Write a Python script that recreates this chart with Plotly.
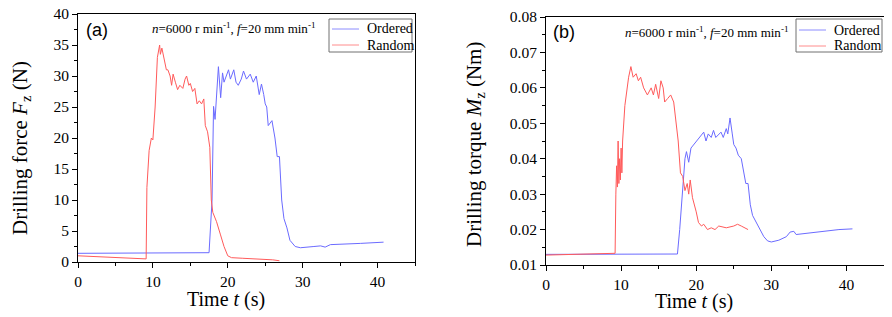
import plotly.graph_objects as go

# (a) Drilling force, Ordered
fa_ord_t = [0, 17.5, 17.9, 18.1, 18.3, 18.75, 19.05, 19.3, 19.5, 20.1, 20.35, 20.8, 21.1, 21.4, 21.8, 22.1, 22.5, 23.0,
            23.4, 23.8, 24.2, 24.5, 24.8, 25.0, 25.2, 25.4, 25.9, 26.3, 26.6, 26.9, 27.2, 27.5, 27.9, 28.3, 29.0, 29.7,
            31.5, 32.4, 33.0, 33.7, 37.7, 40.8]
fa_ord_v = [1.4, 1.5, 10.0, 25.1, 23.0, 31.5, 26.5, 30.5, 29.0, 31.0, 29.5, 31.0, 29.0, 28.5, 29.5, 30.8, 29.5, 30.3,
            29.0, 30.0, 27.0, 28.7, 27.0, 25.5, 25.0, 22.0, 22.8, 20.0, 17.0, 17.0, 10.0, 7.0, 5.5, 3.5, 2.5, 2.3,
            2.5, 2.6, 2.4, 2.8, 3.0, 3.2]

# (a) Drilling force, Random
fa_rnd_t = [0, 9.1, 9.2, 9.5, 9.8, 10.0, 10.3, 10.6, 10.9, 11.0, 11.2, 11.5, 11.8, 12.0, 12.3, 12.5, 12.7, 13.0, 13.3,
            13.6, 14.0, 14.3, 14.5, 14.8, 15.0, 15.3, 15.6, 15.9, 16.2, 16.5, 16.8, 17.0, 17.3, 17.6, 17.8, 18.0, 18.5,
            19.0, 19.5, 20.0, 20.5, 22.0, 24.0, 26.0, 26.9]
fa_rnd_v = [1.0, 0.5, 12.0, 18.0, 20.0, 19.7, 25.0, 33.0, 35.0, 33.5, 34.5, 32.5, 31.0, 31.0, 30.0, 28.5, 30.3, 29.0,
            27.8, 28.5, 28.0, 29.5, 30.0, 28.5, 28.8, 27.5, 28.0, 25.5, 26.0, 25.5, 26.3, 22.0, 21.0, 18.5, 10.0, 8.0,
            6.5, 4.5, 2.5, 1.0, 0.7, 0.6, 0.5, 0.35, 0.2]

# (b) Drilling torque, Ordered
mb_ord_t = [0, 17.5, 17.8, 18.2, 18.5, 18.7, 19.0, 19.3, 19.7, 20.0, 20.5, 21.0, 21.3, 21.6, 22.0, 22.3, 22.6, 23.0,
            23.3, 23.6, 24.0, 24.2, 24.5, 24.8, 25.0, 25.3, 25.6, 26.0, 26.3, 26.6, 26.9, 27.2, 27.5, 28.0, 28.5, 29.0,
            29.5, 30.0, 31.0, 32.0, 32.5, 33.0, 33.3, 35.0, 37.0, 39.0, 40.8]
mb_ord_v = [0.013, 0.0131, 0.020, 0.032, 0.040, 0.042, 0.039, 0.043, 0.044, 0.045, 0.046, 0.0475, 0.045, 0.047, 0.046,
            0.048, 0.046, 0.047, 0.0475, 0.046, 0.0485, 0.047, 0.0515, 0.047, 0.044, 0.043, 0.041, 0.040, 0.036, 0.033,
            0.033, 0.027, 0.024, 0.022, 0.020, 0.018, 0.0168, 0.0165, 0.017, 0.018, 0.0193, 0.0195, 0.0186, 0.0190,
            0.0196, 0.0200, 0.0202]

# (b) Drilling torque, Random
mb_rnd_t = [0, 9.0, 9.2, 9.3, 9.4, 9.5, 9.6, 9.7, 9.8, 9.9, 10.0, 10.1, 10.2, 10.5, 10.8, 11.0, 11.3, 11.6, 12.0, 12.3,
            12.6, 13.0, 13.5, 14.0, 14.3, 14.6, 15.0, 15.3, 15.6, 15.8, 16.2, 16.6, 17.0, 17.3, 17.6, 17.9, 18.2, 18.5,
            18.8, 19.0, 19.2, 19.5, 19.8, 20.0, 20.3, 20.7, 21.0, 21.5, 22.0, 22.5, 23.0, 24.0, 25.0, 25.5, 26.0, 26.5,
            26.9]
mb_rnd_v = [0.0128, 0.0133, 0.0133, 0.030, 0.038, 0.032, 0.045, 0.033, 0.040, 0.034, 0.043, 0.036, 0.045, 0.055, 0.060,
            0.063, 0.066, 0.063, 0.064, 0.062, 0.063, 0.060, 0.058, 0.060, 0.058, 0.061, 0.057, 0.062, 0.060, 0.056,
            0.057, 0.058, 0.056, 0.050, 0.045, 0.036, 0.035, 0.031, 0.033, 0.030, 0.034, 0.029, 0.027, 0.025, 0.022,
            0.021, 0.0215, 0.020, 0.0205, 0.020, 0.021, 0.0205, 0.021, 0.0215, 0.021, 0.0205, 0.020]

series_names = ["Ordered", "Random"]
panel_labels = ["(a)", "(b)"]
x_title = "Time <i>t</i> (s)"
y_titles = ["Drilling force <i>F</i><sub>z</sub> (N)", "Drilling torque <i>M</i><sub>z</sub> (Nm)"]
cond_text = "<i>n</i>=6000 r min<sup>-1</sup>, <i>f</i>=20 mm min<sup>-1</sup>"

BLUE = "#6b6bff"
RED = "#ff5a5a"
LEG_BLUE = "#8c8cff"
LEG_RED = "#ff8c8c"
SERIF = "Liberation Serif"
SANS = "Liberation Sans"

fig = go.Figure()
fig.add_trace(go.Scatter(x=fa_ord_t, y=fa_ord_v, mode="lines", name=series_names[0],
                         line=dict(color=BLUE, width=1), xaxis="x", yaxis="y"))
fig.add_trace(go.Scatter(x=fa_rnd_t, y=fa_rnd_v, mode="lines", name=series_names[1],
                         line=dict(color=RED, width=1), xaxis="x", yaxis="y"))
fig.add_trace(go.Scatter(x=mb_ord_t, y=mb_ord_v, mode="lines", name=series_names[0],
                         line=dict(color=BLUE, width=1), xaxis="x2", yaxis="y2"))
fig.add_trace(go.Scatter(x=mb_rnd_t, y=mb_rnd_v, mode="lines", name=series_names[1],
                         line=dict(color=RED, width=1), xaxis="x2", yaxis="y2"))

# The page body adds an 8px offset; lay out in screen pixels minus that offset.
OFF = 8
W, H = 892 - OFF, 317 - OFF
def px_x(p): return (p - OFF) / W
def px_y(p): return 1 - (p - OFF) / H

axis_common = dict(showline=True, linecolor="black", linewidth=1, mirror=True, ticks="outside", ticklen=5,
                   tickcolor="black", showgrid=False, zeroline=False, automargin=False,
                   ticklabeloverflow="allow",
                   tickfont=dict(family=SERIF, size=15.5, color="black"),
                   minor=dict(ticks="outside", ticklen=3, tickcolor="black"))

fig.update_layout(
    width=W, height=H, margin=dict(l=0, r=0, t=0, b=0),
    paper_bgcolor="white", plot_bgcolor="white", showlegend=False,
    xaxis=dict(domain=[px_x(78), px_x(415)], range=[0, 45], anchor="y", dtick=10, tick0=0,
               minor_dtick=5, **axis_common),
    yaxis=dict(domain=[px_y(262), px_y(14)], range=[0, 40], anchor="x", dtick=5, minor_dtick=2.5,
               **axis_common),
    xaxis2=dict(domain=[px_x(546), px_x(884)], range=[0, 45], anchor="y2", dtick=10, tick0=0,
                minor_dtick=5, **axis_common),
    yaxis2=dict(domain=[px_y(265), px_y(17)], range=[0.01, 0.08], anchor="x2", dtick=0.01, tick0=0.01,
                minor_dtick=0.005, tickformat=".2f", **axis_common),
)

# Axis titles (placed as in the reference, slightly off-centre)
for (xc, yc) in [(226, 299), (694, 301)]:
    fig.add_annotation(text=x_title, x=px_x(xc), y=px_y(yc), xref="paper", yref="paper",
                       xanchor="center", yanchor="middle", showarrow=False,
                       font=dict(family=SERIF, size=20, color="black"))
for txt, (xc, yc) in zip(y_titles, [(21, 148), (475, 145)]):
    fig.add_annotation(text=txt, x=px_x(xc), y=px_y(yc), xref="paper", yref="paper", textangle=-90,
                       xanchor="center", yanchor="middle", showarrow=False,
                       font=dict(family=SERIF, size=21, color="black"))

# Legend boxes drawn per panel (box left, right, top, bottom; first row y)
legend_boxes = [(329, 412, 19, 52, 29), (796, 882, 19, 52, 30)]
for (l, r, t, b, y0) in legend_boxes:
    fig.add_shape(type="rect", xref="paper", yref="paper", x0=px_x(l), x1=px_x(r), y0=px_y(b), y1=px_y(t),
                  line=dict(color="#707070", width=1), fillcolor="white", layer="above")
    for i, (name, col) in enumerate(zip(series_names, [LEG_BLUE, LEG_RED])):
        yy = y0 + 16 * i
        fig.add_shape(type="line", xref="paper", yref="paper", x0=px_x(l + 3), x1=px_x(l + 30),
                      y0=px_y(yy), y1=px_y(yy), line=dict(color=col, width=1), layer="above")
        fig.add_annotation(text=name, x=px_x(l + 36), y=px_y(yy), xref="paper", yref="paper",
                           xanchor="left", yanchor="middle", showarrow=False,
                           font=dict(family=SERIF, size=14, color="black"))

fig.add_annotation(text=panel_labels[0], x=px_x(84), y=px_y(30), xref="paper", yref="paper",
                   xanchor="left", yanchor="middle", showarrow=False,
                   font=dict(family=SANS, size=18, color="black"))
fig.add_annotation(text=panel_labels[1], x=px_x(551), y=px_y(32), xref="paper", yref="paper",
                   xanchor="left", yanchor="middle", showarrow=False,
                   font=dict(family=SANS, size=18, color="black"))
fig.add_annotation(text=cond_text, x=px_x(233), y=px_y(28), xref="paper", yref="paper",
                   xanchor="center", yanchor="middle", showarrow=False,
                   font=dict(family=SERIF, size=13, color="black"))
fig.add_annotation(text=cond_text, x=px_x(706), y=px_y(32), xref="paper", yref="paper",
                   xanchor="center", yanchor="middle", showarrow=False,
                   font=dict(family=SERIF, size=13, color="black"))

fig.write_html("out.html")
